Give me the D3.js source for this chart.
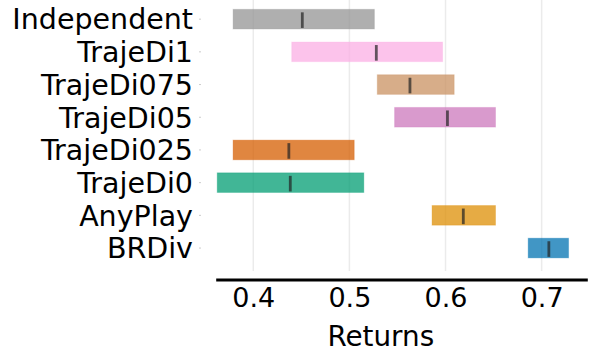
<!DOCTYPE html>
<html><head><meta charset="utf-8">
<script src="https://cdn.jsdelivr.net/npm/d3@7"></script>
<style>body{margin:0;background:#fff}svg{display:block}text{font-family:"DejaVu Sans",sans-serif}</style>
</head><body>
<svg id="c" width="598" height="364"></svg>
<script>
const categories = ["Independent","TrajeDi1","TrajeDi075","TrajeDi05","TrajeDi025","TrajeDi0","AnyPlay","BRDiv"];
const lows    = [0.379, 0.440, 0.529, 0.547, 0.379, 0.3625, 0.586, 0.686];
const highs   = [0.526, 0.597, 0.609, 0.652, 0.505, 0.515, 0.652, 0.728];
const medians = [0.451, 0.528, 0.563, 0.602, 0.437, 0.4385, 0.6185, 0.7075];
const colors  = ["#949494","#fbafe4","#ca9161","#cc78bc","#d55e00","#029e73","#de8f05","#0173b2"];
const xTicks  = [0.4, 0.5, 0.6, 0.7];
const xLabel  = "Returns";

const svg = d3.select("#c");
const x = d3.scaleLinear().domain([0.3609, 0.7475]).range([215.7, 587.3]);
const y = d3.scaleBand().domain(categories).range([2.8, 264.4]).paddingInner(0.4).paddingOuter(0.2);

// grid
svg.append("g").selectAll("line").data(xTicks).join("line")
  .attr("x1", d => x(d)).attr("x2", d => x(d))
  .attr("y1", 0).attr("y2", 271)
  .attr("stroke", "#ebebeb").attr("stroke-width", 1.5);

// bars
const g = svg.append("g");
categories.forEach((c, i) => {
  g.append("rect")
    .attr("x", x(lows[i])).attr("width", x(highs[i]) - x(lows[i]))
    .attr("y", y(c)).attr("height", y.bandwidth())
    .attr("fill", colors[i]).attr("fill-opacity", 0.75)
    .attr("stroke", colors[i]).attr("stroke-opacity", 0.3).attr("stroke-width", 1);
  g.append("line")
    .attr("x1", x(medians[i])).attr("x2", x(medians[i]))
    .attr("y1", y(c) + 3).attr("y2", y(c) + y.bandwidth() - 1)
    .attr("stroke", "#222").attr("stroke-opacity", 0.7).attr("stroke-width", 2.8);
});

// y labels & tiny ticks
const yl = svg.append("g");
categories.forEach(c => {
  const cy = y(c) + y.bandwidth() / 2;
  yl.append("text").attr("x", 193).attr("y", cy).attr("dy", "0.36em")
    .attr("text-anchor", "end").attr("font-size", 28.5).attr("fill", "#000").text(c);
  yl.append("line").attr("x1", 199).attr("x2", 201).attr("y1", cy).attr("y2", cy)
    .attr("stroke", "#cccccc").attr("stroke-width", 1);
});

// x axis
const xa = d3.axisBottom(x).tickValues(xTicks).tickSize(0).tickPadding(0).tickFormat(d3.format(".1f"));
const ax = svg.append("g").attr("transform", "translate(0,279.5)").call(xa);
ax.select(".domain").attr("stroke", "#000").attr("stroke-width", 3);
ax.selectAll("text").attr("font-size", 27).attr("fill", "#000").attr("dy", null).attr("y", 27);

svg.append("text").attr("x", 380.8).attr("y", 346).attr("text-anchor", "middle")
  .attr("font-size", 27.8).attr("fill", "#000").text(xLabel);
</script>
</body></html>
